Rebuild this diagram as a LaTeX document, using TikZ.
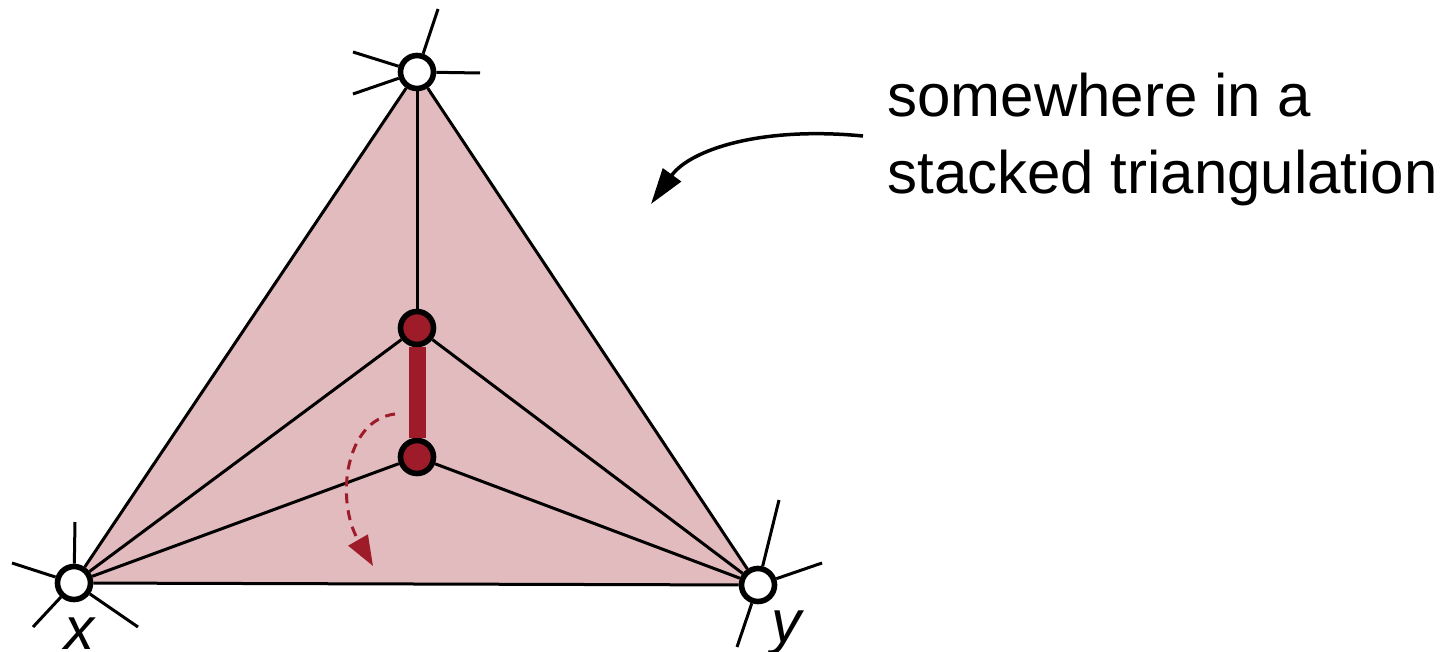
\documentclass[tikz,border=0pt]{standalone}
\usepackage{fontspec}
\setmainfont{Liberation Sans}
\usetikzlibrary{arrows.meta,backgrounds}

\definecolor{darkred}{RGB}{158,27,41}

\tikzset{
  outer/.style={circle, draw=black, fill=white, line width=2.8pt, minimum size=16.5pt, inner sep=0pt},
  inner/.style={circle, draw=black, fill=darkred, line width=2.8pt, minimum size=16.5pt, inner sep=0pt},
  edge/.style={line width=1.5pt},
  contract/.style={line width=8.5pt, draw=darkred},
  face/.style={fill=darkred!30},
  big/.style={font=\fontsize{30}{38.5}\selectfont},
}

\begin{document}
\begin{tikzpicture}[x=0.5pt,y=-0.5pt]
    \useasboundingbox (0,0) rectangle (1443,652);

    % outer vertices
    \node[outer] (t) at (417,72) {};
    \node[outer] (x) at (74,583) {};
    \node[outer] (y) at (758,585) {};

    % inner vertices
    \node[inner] (u) at (417,328) {};
    \node[inner] (v) at (417,457) {};

    % face
    \begin{pgfonlayer}{background}
        \fill[face] (t.center) -- (x.center) -- (y.center) -- cycle;
    \end{pgfonlayer}

    % edges
    \draw[edge] (t) -- (x);
    \draw[edge] (t) -- (y);
    \draw[edge] (x) -- (y);
    \draw[edge] (t) -- (u);
    \foreach \w in {u,v} {
        \draw[edge] (\w) -- (x);
        \draw[edge] (\w) -- (y);
    }
    \draw[contract] (u) -- (v);

    % outgoing half edges
    \foreach \dx/\dy in {21/-63, -64/-20, -64/22, 63/1}
        \draw[edge] (t) -- +(\dx,\dy);
    \foreach \dx/\dy in {1/-61, -62/-20, -41/44, 64/44}
        \draw[edge] (x) -- +(\dx,\dy);
    \foreach \dx/\dy in {21/-85, 64/-22, -21/62}
        \draw[edge] (y) -- +(\dx,\dy);

    % labels
    \node[big, anchor=base] (lx) at (80,649) {\textit{x}};
    \node[big, anchor=base] (ly) at (788,642) {\textit{y}};

    % flip
    \coordinate (d0) at (395,414);
    \coordinate (d1) at (373,566);
    \draw[darkred, line width=1.5pt, dash pattern=on 5pt off 3.5pt,
          -{Triangle[length=15pt,width=11pt]}]
        (d0) .. controls (345,420) and (335,500) .. (d1);

    % annotation
    \node[big, anchor=base west, align=left, inner sep=0pt] (note) at (887,194)
        {somewhere in a\\ stacked triangulation};
    \coordinate (p0) at (863,136);
    \coordinate (p1) at (651,204);
    \draw[line width=1.75pt, -{Triangle[length=18pt,width=11pt]}]
        (p0) .. controls (760,126) and (690,150) .. (p1);
\end{tikzpicture}
\end{document}
